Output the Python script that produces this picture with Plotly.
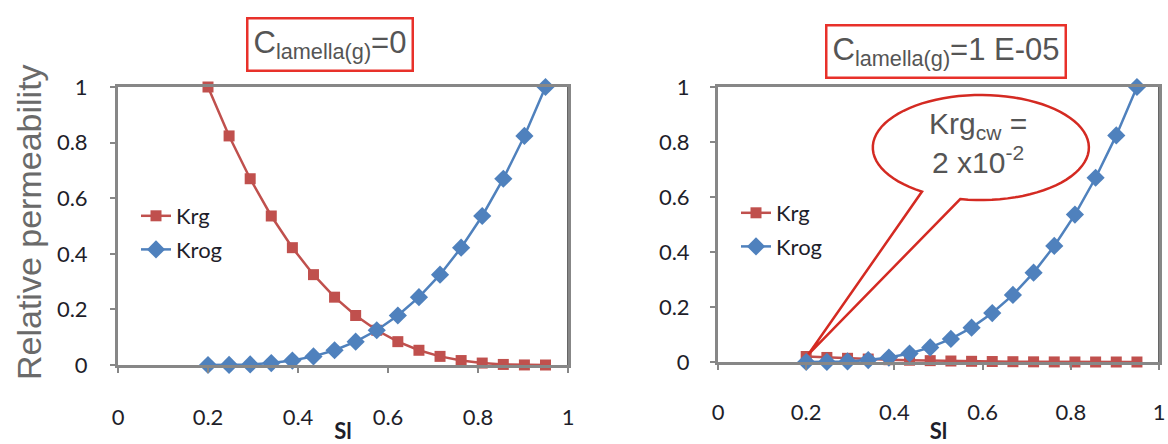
import math
import plotly.graph_objects as go

# ---- data ----
sl = [0.2, 0.246875, 0.29375, 0.340625, 0.3875, 0.434375, 0.48125, 0.528125,
      0.575, 0.621875, 0.66875, 0.715625, 0.7625, 0.809375, 0.85625, 0.903125, 0.95]
krg_left = [1.0, 0.824, 0.670, 0.536, 0.422, 0.325, 0.244, 0.178, 0.125,
            0.084, 0.053, 0.031, 0.016, 0.007, 0.002, 0.0002, 0.0]
krog_left = [0.0, 0.0002, 0.002, 0.007, 0.016, 0.031, 0.053, 0.084, 0.125,
             0.178, 0.244, 0.325, 0.422, 0.536, 0.670, 0.824, 1.0]
krg_right = [0.02, 0.0165, 0.0134, 0.0107, 0.0084, 0.0065, 0.0049, 0.0036, 0.0025,
             0.0017, 0.0011, 0.0006, 0.0003, 0.0001, 0.0, 0.0, 0.0]
krog_right = [0.0, 0.0002, 0.002, 0.007, 0.016, 0.031, 0.053, 0.084, 0.125,
              0.178, 0.244, 0.325, 0.422, 0.536, 0.670, 0.824, 1.0]
titles = ["C<sub>lamella(g)</sub>=0", "C<sub>lamella(g)</sub>=1 E-05"]
callout_text = "Krg<sub>cw</sub> =<br>2 x10<sup>-2</sup>"

RED = "#C0504D"
BLUE = "#4F81BD"
W, H = 1168, 444

fig = go.Figure()

def add_series(x, y, name, color, symbol, size, xa, ya, legend):
    fig.add_trace(go.Scatter(
        x=x, y=y, name=name, mode="lines+markers", xaxis=xa, yaxis=ya,
        line=dict(color=color, width=2.5),
        marker=dict(symbol=symbol, size=size, color=color),
        cliponaxis=False, legend=legend, legendgroup=name + legend,
    ))

add_series(sl, krg_left, "Krg", RED, "square", 11, "x", "y", "legend")
add_series(sl, krog_left, "Krog", BLUE, "diamond", 14, "x", "y", "legend")
add_series(sl, krg_right, "Krg", RED, "square", 11, "x2", "y2", "legend2")
add_series(sl, krog_right, "Krog", BLUE, "diamond", 14, "x2", "y2", "legend2")

DARK = "#1e1e2a"
tickfont = dict(family="Lato", size=22, color=DARK)
axis_common = dict(range=[0, 1], dtick=0.2, showgrid=False, zeroline=False,
                   showline=True, mirror=True, linecolor="#878787", linewidth=3,
                   ticks="outside", ticklen=5, tickcolor="#878787", tickwidth=1.5,
                   tickfont=tickfont, automargin=False)

# pixel layout
L1, R1 = 118, 568
L2, R2 = 718, 1159
T, B1, B2 = 87, 365, 362

sl_title = dict(text="<b>Sl</b>", font=dict(family="Lato", size=22, color=DARK), standoff=0)

fig.update_layout(
    width=W, height=H, margin=dict(l=0, r=0, t=0, b=0, autoexpand=False),
    paper_bgcolor="white", plot_bgcolor="white",
    xaxis=dict(domain=[L1 / W, R1 / W], anchor="y", ticklabelstandoff=26,
               title=sl_title, **axis_common),
    yaxis=dict(domain=[(H - B1) / H, (H - T) / H], anchor="x", ticklabelstandoff=18,
               **axis_common),
    xaxis2=dict(domain=[L2 / W, R2 / W], anchor="y2", ticklabelstandoff=24,
                title=sl_title, **axis_common),
    yaxis2=dict(domain=[(H - B2) / H, (H - T) / H], anchor="x2", ticklabelstandoff=16,
                **axis_common),
    legend=dict(x=136 / W, y=(H - 195) / H, xanchor="left", yanchor="top",
                font=dict(family="Lato", size=22, color=DARK),
                bgcolor="rgba(0,0,0,0)", tracegroupgap=2),
    legend2=dict(x=736 / W, y=(H - 192) / H, xanchor="left", yanchor="top",
                 font=dict(family="Lato", size=22, color=DARK),
                 bgcolor="rgba(0,0,0,0)", tracegroupgap=2),
    showlegend=True,
)

annotations = []
# y-axis title (left only)
annotations.append(dict(text="Relative permeability", x=29 / W, y=(H - 222) / H,
                        xref="paper", yref="paper", xanchor="center", yanchor="middle",
                        textangle=-90, showarrow=False,
                        font=dict(family="Liberation Sans", size=34, color="#6a6a6a")))
# boxed titles
annotations.append(dict(text=titles[0], x=330 / W, y=(H - 45) / H, xref="paper", yref="paper",
                        xanchor="center", yanchor="middle",
                        showarrow=False, bordercolor="#E8312A", borderwidth=2.5, borderpad=5,
                        bgcolor="white",
                        font=dict(family="Liberation Sans", size=31, color="#555555")))
annotations.append(dict(text=titles[1], x=946 / W, y=(H - 51) / H, xref="paper", yref="paper",
                        xanchor="center", yanchor="middle",
                        showarrow=False, bordercolor="#E8312A", borderwidth=2.5, borderpad=5,
                        bgcolor="white",
                        font=dict(family="Liberation Sans", size=31, color="#555555")))

# callout bubble (right panel) in data coordinates
cx, cy, rx, ry = 0.596, 0.78, 0.245, 0.191
a_start, a_end = math.radians(259), math.radians(237 + 360)
n = 80
pts = []
for i in range(n + 1):
    a = a_start + (a_end - a_start) * i / n
    pts.append((cx + rx * math.cos(a), cy + ry * math.sin(a)))
tip = (0.205, 0.028)
path = "M " + " L ".join(f"{x:.4f},{y:.4f}" for x, y in pts) + f" L {tip[0]},{tip[1]} Z"
fig.add_shape(type="path", path=path, xref="x2", yref="y2",
              line=dict(color="#D42A22", width=2.5), fillcolor="white", layer="above")
annotations.append(dict(text=callout_text, x=0.59, y=0.795, xref="x2", yref="y2",
                        xanchor="center", yanchor="middle",
                        showarrow=False, align="center",
                        font=dict(family="Liberation Sans", size=30, color="#555555")))

# darker right edges of frames
fig.add_shape(type="line", xref="x", yref="y", x0=1, x1=1, y0=0, y1=1,
              line=dict(color="#333333", width=1.5))
fig.add_shape(type="line", xref="x2", yref="y2", x0=1, x1=1, y0=0, y1=1,
              line=dict(color="#333333", width=1.5))

fig.update_layout(annotations=annotations)
fig.write_html("out.html")
